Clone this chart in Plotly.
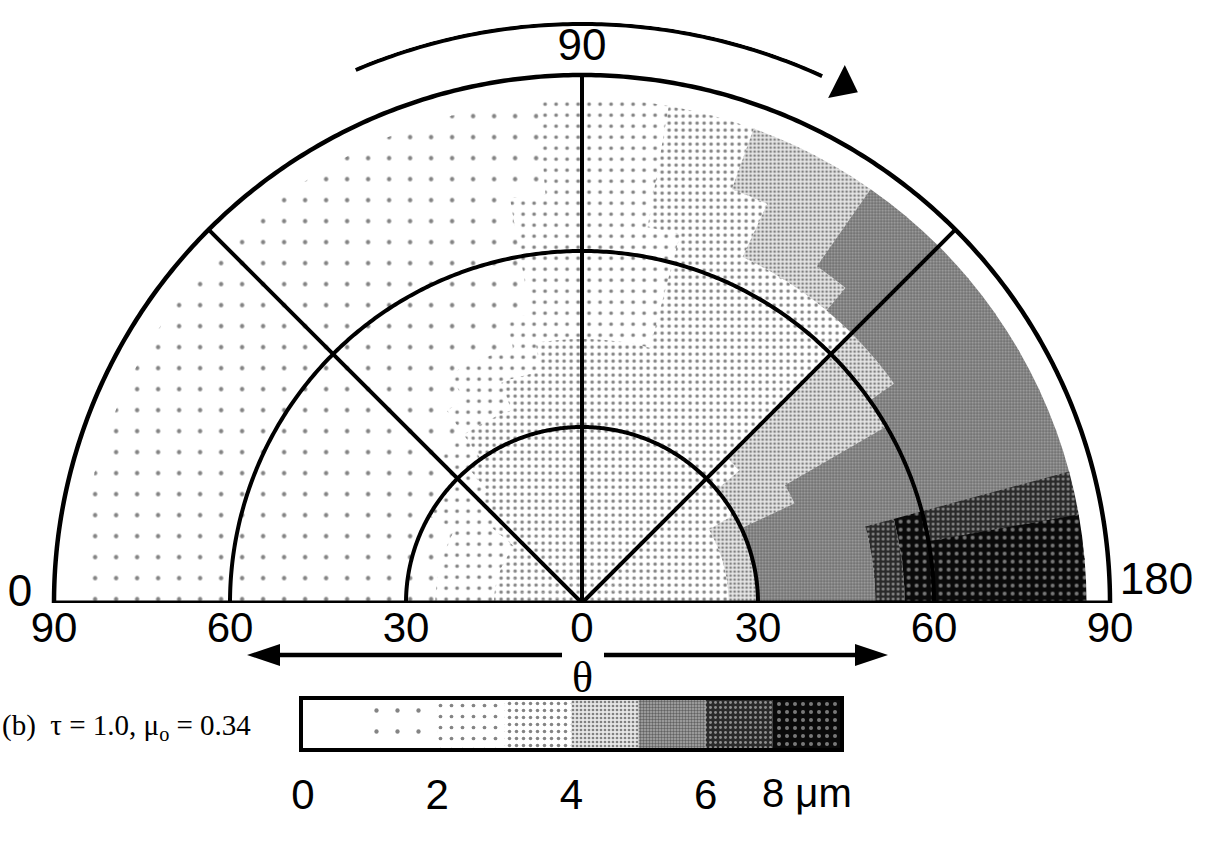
import numpy as np
import plotly.graph_objects as go

# ---------------- data ----------------
PSI_EDGES = list(range(0, 181, 5))                      # azimuth psi (deg), 36 sectors
THETA_EDGES = [0, 5, 10, 15, 20, 25, 30, 35, 40, 45, 50, 55, 60, 65, 70, 75, 80, 86]  # theta rings (deg)
# size class k  ->  mean size between k and k+1 micron ; one string per psi sector, one digit per theta ring
SIZE_CLASS = [
    "33322111111111111",  # psi 0-5
    "33322111111111111",  # 5-10
    "33322111111111111",  # 10-15
    "33322111111111111",  # 15-20
    "33322111111111111",  # 20-25
    "33322111111111111",  # 25-30
    "33322211111111111",  # 30-35
    "33322211111111111",  # 35-40
    "33332211111111111",  # 40-45
    "33333221111111111",  # 45-50
    "33333321111111111",  # 50-55
    "33333332111111111",  # 55-60
    "33333332211111111",  # 60-65
    "33333332211111111",  # 65-70
    "33333333211111111",  # 70-75
    "33333333221111111",  # 75-80
    "33333333322222111",  # 80-85
    "33333333322222222",  # 85-90
    "33333333322222222",  # 90-95
    "33333333322222222",  # 95-100
    "33333333322223333",  # 100-105
    "33333333333333333",  # 105-110
    "33333333333333344",  # 110-115
    "33333333333334444",  # 115-120
    "33333333333334444",  # 120-125
    "33333333333334555",  # 125-130
    "33333333333335555",  # 130-135
    "33333334444445555",  # 135-140
    "33333344444445555",  # 140-145
    "33333344444455555",  # 145-150
    "33333444555555555",  # 150-155
    "33333455555555555",  # 155-160
    "33333455555555555",  # 160-165
    "33333455556766666",  # 165-170
    "33333455556777777",  # 170-175
    "33333455556777777",  # 175-180
]
LEGEND_CLASSES = [0, 1, 2, 3, 4, 5, 6, 7]
LEGEND_TICKS = [0, 2, 4, 6]
THETA_TICKS = [-90, -60, -30, 0, 30, 60, 90]        # signed: left half negative
THETA_TICK_TEXT = ["90", "60", "30", "0", "30", "60", "90"]
PSI_LABELS = ["0", "90", "180"]
SPOKES_PSI = [0, 45, 90, 135, 180]
CIRCLES_THETA = [30, 60]
RIM_THETA = 90

for row in SIZE_CLASS:
    assert len(row) == len(THETA_EDGES) - 1
assert len(SIZE_CLASS) == len(PSI_EDGES) - 1

# ---------------- styles ----------------
CLASS_STYLE = {
    0: dict(bg="#ffffff", fg="#ffffff", size=8, solidity=0.01),
    1: dict(bg="#ffffff", fg="#0a0a0a", size=21, solidity=0.034),
    2: dict(bg="#ffffff", fg="#0a0a0a", size=11, solidity=0.09),
    3: dict(bg="#ffffff", fg="#0a0a0a", size=7, solidity=0.20),
    4: dict(bg="#e6e6e6", fg="#1a1a1a", size=4, solidity=0.36),
    5: dict(bg="#aaaaaa", fg="#1a1a1a", size=3, solidity=0.50),
    6: dict(bg="#2a2a2a", fg="#f4f4f4", size=5, solidity=0.26),
    7: dict(bg="#0a0a0a", fg="#e8e8e8", size=8, solidity=0.20),
}
W, H = 1209, 861
CX, CY, R90 = 582, 603, 528.0          # centre and theta=90 radius in px
PXU = R90 / 90                          # px per theta-degree
R_MAX = 99.1
rpx = PXU * R_MAX
TICK_AXIS_Y = 599                       # pixel row of the theta tick-label axis
SANS = "Liberation Sans, Arial, sans-serif"
SERIF = "Liberation Serif, Times New Roman, serif"
LW = 4


def pattern(k):
    s = CLASS_STYLE[k]
    return dict(shape=".", bgcolor=s["bg"], fgcolor=s["fg"], size=s["size"],
                solidity=s["solidity"], fillmode="overlay")


def px(x):
    return x / W


def py(y):
    return 1 - y / H


fig = go.Figure()

# ---------------- field (barpolar) ----------------
for k in range(1, 8):
    r, base, th, wd = [], [], [], []
    for i, row in enumerate(SIZE_CLASS):
        j = 0
        while j < len(row):
            c = int(row[j])
            j2 = j
            while j2 + 1 < len(row) and int(row[j2 + 1]) == c:
                j2 += 1
            if c == k:
                base.append(THETA_EDGES[j])
                r.append(THETA_EDGES[j2 + 1] - THETA_EDGES[j])
                th.append((PSI_EDGES[i] + PSI_EDGES[i + 1]) / 2)
                wd.append(PSI_EDGES[i + 1] - PSI_EDGES[i] + 0.2)
            j = j2 + 1
    if r:
        fig.add_trace(go.Barpolar(
            r=r, base=base, theta=th, width=wd,
            marker=dict(color=CLASS_STYLE[k]["bg"], line=dict(width=0), pattern=pattern(k)),
            hoverinfo="skip", showlegend=False))

# ---------------- frame lines ----------------
arc = np.linspace(0, 180, 361)
for t in CIRCLES_THETA:
    fig.add_trace(go.Scatterpolar(r=[t] * len(arc), theta=arc, mode="lines",
                                  line=dict(color="black", width=LW), hoverinfo="skip"))
fig.add_trace(go.Scatterpolar(r=[RIM_THETA] * len(arc), theta=arc, mode="lines",
                              line=dict(color="black", width=4.5), hoverinfo="skip"))
for p in SPOKES_PSI:
    fig.add_trace(go.Scatterpolar(r=[0, RIM_THETA], theta=[p, p], mode="lines",
                                  line=dict(color="black", width=LW if p not in (0, 180) else 5),
                                  hoverinfo="skip"))

# psi arrow
parc = np.linspace(67, 114.5, 100)
fig.add_trace(go.Scatterpolar(r=[98.7] * len(parc), theta=parc, mode="lines",
                              line=dict(color="black", width=4), hoverinfo="skip"))
fig.add_trace(go.Scatterpolar(r=[98.9], theta=[116.8], mode="markers",
                              marker=dict(symbol="triangle-up", size=32, color="black", angle=116.8),
                              cliponaxis=False, hoverinfo="skip"))
fig.add_trace(go.Scatterpolar(r=[100.5], theta=[122], mode="text", text=["ψ"],
                              textfont=dict(family=SERIF, size=46, color="black"),
                              cliponaxis=False, hoverinfo="skip"))

# psi labels
fig.add_trace(go.Scatterpolar(r=[95.8, 94.5, 98], theta=[0.8, 90, 178], mode="text",
                              text=PSI_LABELS, textposition="middle center",
                              textfont=dict(family=SANS, size=44, color="black"),
                              cliponaxis=False, hoverinfo="skip"))

# ---------------- legend bar ----------------
for k in LEGEND_CLASSES:
    fig.add_trace(go.Bar(x=[1], base=[k], y=[0], orientation="h", width=1,
                         marker=dict(color=CLASS_STYLE[k]["bg"], line=dict(width=0),
                                     pattern=pattern(k) if k > 0 else None),
                         xaxis="x", yaxis="y", hoverinfo="skip", showlegend=False))

# empty trace that carries the theta tick axis under the base line
fig.add_trace(go.Scatter(x=[None], y=[None], xaxis="x2", yaxis="y2", mode="markers",
                         hoverinfo="skip", showlegend=False))

# theta double arrow (decoration)
AY = 655
shapes = [
    dict(type="line", xref="paper", yref="paper", x0=px(272), y0=py(AY), x1=px(562), y1=py(AY),
         line=dict(color="black", width=4.5)),
    dict(type="line", xref="paper", yref="paper", x0=px(604), y0=py(AY), x1=px(862), y1=py(AY),
         line=dict(color="black", width=4.5)),
    dict(type="path", xref="paper", yref="paper", fillcolor="black", line=dict(width=0),
         path=f"M {px(247)} {py(AY)} L {px(280)} {py(AY - 11)} L {px(280)} {py(AY + 11)} Z"),
    dict(type="path", xref="paper", yref="paper", fillcolor="black", line=dict(width=0),
         path=f"M {px(888)} {py(AY)} L {px(855)} {py(AY - 11)} L {px(855)} {py(AY + 11)} Z"),
]

fig.update_layout(
    width=W, height=H, margin=dict(l=0, r=0, t=0, b=0, autoexpand=False),
    paper_bgcolor="white", plot_bgcolor="rgba(0,0,0,0)", showlegend=False,
    barmode="overlay",
    polar=dict(
        domain=dict(x=[(CX - rpx) / W, (CX + rpx) / W], y=[(H - CY) / H, (H - CY + rpx) / H]),
        sector=[0, 180], bgcolor="white", barmode="overlay",
        angularaxis=dict(rotation=180, direction="clockwise", showline=False, showgrid=False,
                         showticklabels=False, ticks=""),
        radialaxis=dict(range=[0, R_MAX], showline=False, showgrid=False,
                        showticklabels=False, ticks=""),
    ),
    xaxis=dict(domain=[303 / W, 840 / W], range=[0, 8], tickvals=LEGEND_TICKS,
               ticktext=[str(v) for v in LEGEND_TICKS], ticks="outside", ticklen=7,
               tickcolor="rgba(0,0,0,0)", showline=True, mirror=True, linecolor="black",
               linewidth=4, showgrid=False, zeroline=False, automargin=False,
               tickfont=dict(family=SANS, size=42, color="black")),
    yaxis=dict(domain=[1 - 748 / H, 1 - 700 / H], range=[-0.5, 0.5], showticklabels=False,
               ticks="", showline=True, mirror=True, linecolor="black", linewidth=4,
               showgrid=False, zeroline=False, automargin=False),
    xaxis2=dict(domain=[px(CX - R90), px(CX + R90)], range=[-90, 90], anchor="y2",
                tickvals=THETA_TICKS, ticktext=THETA_TICK_TEXT, ticks="",
                showline=False, showgrid=False, zeroline=False,
                tickfont=dict(family=SANS, size=42, color="black"), fixedrange=True,
                automargin=False),
    yaxis2=dict(domain=[py(TICK_AXIS_Y), py(TICK_AXIS_Y) + 0.02], range=[0, 1], anchor="x2",
                visible=False, fixedrange=True, automargin=False),
    shapes=shapes,
    annotations=[
        dict(x=8, xref="x", y=py(793), yref="paper", text="8 μm", showarrow=False,
             xanchor="center", yanchor="middle", xshift=-33,
             font=dict(family=SANS, size=40, color="black")),
        dict(x=0, y=py(727), xref="paper", yref="paper", xanchor="left", yanchor="middle",
             text="(b)  τ = 1.0, μ<sub>o</sub> = 0.34", showarrow=False,
             font=dict(family=SERIF, size=29, color="black")),
        dict(x=px(CX), y=py(677), xref="paper", yref="paper", text="θ", showarrow=False,
             xanchor="center", yanchor="middle", font=dict(family=SERIF, size=44, color="black")),
    ],
)

fig.write_html("out.html")
